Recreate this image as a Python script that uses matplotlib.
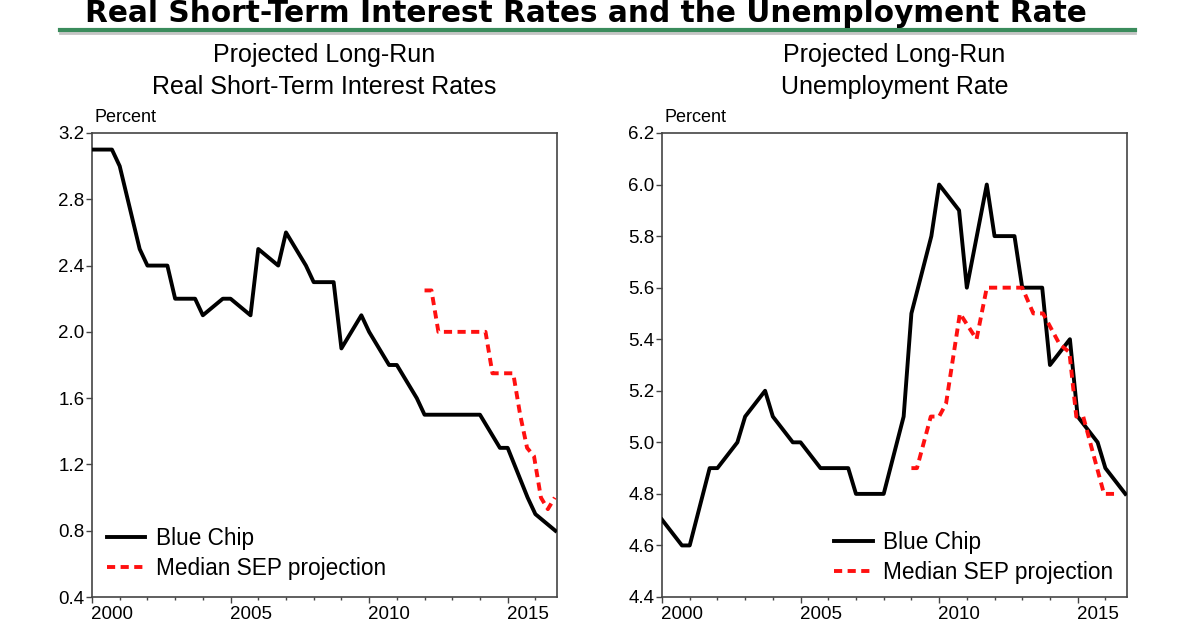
import matplotlib
matplotlib.use("Agg")
import matplotlib.pyplot as plt
from matplotlib.lines import Line2D
from matplotlib.ticker import MultipleLocator, FormatStrFormatter
from matplotlib.transforms import ScaledTranslation

plt.rcParams['font.family'] = ['Liberation Sans', 'DejaVu Sans']

# Blue Chip long-range surveys (two per year)
bc_dates = [2000.0, 2000.72, 2001.0, 2001.72, 2002.0, 2002.72, 2003.0, 2003.72,
            2004.0, 2004.72, 2005.0, 2005.72, 2006.0, 2006.72, 2007.0, 2007.72,
            2008.0, 2008.72, 2009.0, 2009.72, 2010.0, 2010.72, 2011.0, 2011.72,
            2012.0, 2012.72, 2013.0, 2013.72, 2014.0, 2014.72, 2015.0, 2015.72,
            2016.0, 2016.72]
bc_rate = [3.1, 3.1, 3.0, 2.5, 2.4, 2.4, 2.2, 2.2, 2.1, 2.2, 2.2, 2.1,
           2.5, 2.4, 2.6, 2.4, 2.3, 2.3, 1.9, 2.1, 2.0, 1.8, 1.8, 1.6,
           1.5, 1.5, 1.5, 1.5, 1.5, 1.3, 1.3, 1.0, 0.9, 0.8]
bc_unemp = [4.7, 4.6, 4.6, 4.9, 4.9, 5.0, 5.1, 5.2, 5.1, 5.0, 5.0, 4.9,
            4.9, 4.9, 4.8, 4.8, 4.8, 5.1, 5.5, 5.8, 6.0, 5.9, 5.6, 6.0,
            5.8, 5.8, 5.6, 5.6, 5.3, 5.4, 5.1, 5.0, 4.9, 4.8]

# FOMC median SEP projections
sep_rate_dates = [2012.0, 2012.25, 2012.5, 2012.75, 2013.0, 2013.25, 2013.5, 2013.75,
                  2014.0, 2014.2, 2014.45, 2014.7, 2014.95, 2015.2, 2015.45, 2015.7,
                  2015.95, 2016.2, 2016.45, 2016.7]
sep_rate = [2.25, 2.25, 2.0, 2.0, 2.0, 2.0, 2.0, 2.0, 2.0, 2.0, 1.75, 1.75,
            1.75, 1.75, 1.5, 1.3, 1.25, 1.0, 0.93, 1.0]
sep_unemp_dates = [2009.0, 2009.2, 2009.7, 2010.0, 2010.25, 2010.75, 2011.35, 2011.72,
                   2013.0, 2013.4, 2013.75, 2014.0, 2014.35, 2014.7, 2014.95, 2015.2,
                   2015.45, 2015.7, 2015.95, 2016.45]
sep_unemp = [4.9, 4.9, 5.1, 5.1, 5.15, 5.5, 5.4, 5.6, 5.6, 5.5, 5.5, 5.45,
             5.38, 5.35, 5.1, 5.1, 5.0, 4.9, 4.8, 4.8]

fig = plt.figure(figsize=(12, 6.3), dpi=100)
ax1 = fig.add_axes([92 / 1200, 33 / 630, 465 / 1200, 464 / 630])
ax2 = fig.add_axes([662 / 1200, 33 / 630, 465 / 1200, 464 / 630])

panels = [
    (ax1, bc_rate, sep_rate_dates, sep_rate, (0.4, 3.2), 0.4,
     ["Projected Long-Run", "Real Short-Term Interest Rates"], (0.032, 0.150)),
    (ax2, bc_unemp, sep_unemp_dates, sep_unemp, (4.4, 6.2), 0.2,
     ["Projected Long-Run", "Unemployment Rate"], (0.37, 0.142)),
]

for ax, bc, sd, sv, ylim, ystep, titles, legpos in panels:
    ax.plot(bc_dates, bc, color='black', lw=2.8, label='Blue Chip', zorder=3)
    ax.plot(sd, sv, color='#ff1010', lw=2.8, dashes=(2.1, 1.4),
            label='Median SEP projection', zorder=4)
    ax.set_xlim(2000, 2016.78)
    ax.set_ylim(*ylim)
    ax.xaxis.set_major_locator(MultipleLocator(5))
    ax.xaxis.set_minor_locator(MultipleLocator(1))
    ax.yaxis.set_major_locator(MultipleLocator(ystep))
    ax.yaxis.set_major_formatter(FormatStrFormatter('%.1f'))
    ax.tick_params(axis='both', which='major', direction='out', length=4.5,
                   width=1, color='#444444', labelsize=13.5, pad=2)
    ax.tick_params(axis='x', which='minor', direction='out', length=2.5,
                   width=1, color='#444444')
    ax.tick_params(axis='y', pad=1)
    for label in ax.get_xticklabels():
        label.set_transform(label.get_transform() +
                            ScaledTranslation(0.2, 0, fig.dpi_scale_trans))
    for sp in ax.spines.values():
        sp.set_color('#444444')
        sp.set_linewidth(1.2)

    cx = (ax.get_position().x0 + ax.get_position().x1) / 2
    fig.text(cx, 1 - 55 / 630, titles[0], ha='center', va='center', fontsize=18)
    fig.text(cx, 1 - 87 / 630, titles[1], ha='center', va='center', fontsize=18)
    fig.text(ax.get_position().x0 + 3 / 1200, 1 - 117 / 630, 'Percent',
             ha='left', va='center', fontsize=13)

    ax.legend(loc='upper left', bbox_to_anchor=legpos, frameon=False,
              fontsize=16.3, handlelength=1.7, handletextpad=0.45,
              labelspacing=0.3, borderpad=0, borderaxespad=0)

fig.text(0.488, 1 - 22 / 630, 'Real Short-Term Interest Rates and the Unemployment Rate',
         ha='center', va='baseline', fontsize=21.3, fontweight='heavy',
         family=['DejaVu Sans'])

# green rule under the heading, with a soft shadow
fig.add_artist(Line2D([60 / 1200, 1135 / 1200], [1 - 33 / 630, 1 - 33 / 630],
                      color='#c4c4c4', lw=2))
fig.add_artist(Line2D([60 / 1200, 1135 / 1200], [1 - 30 / 630, 1 - 30 / 630],
                      color='#3a8c5c', lw=3))

fig.savefig('out.png', dpi=100)
